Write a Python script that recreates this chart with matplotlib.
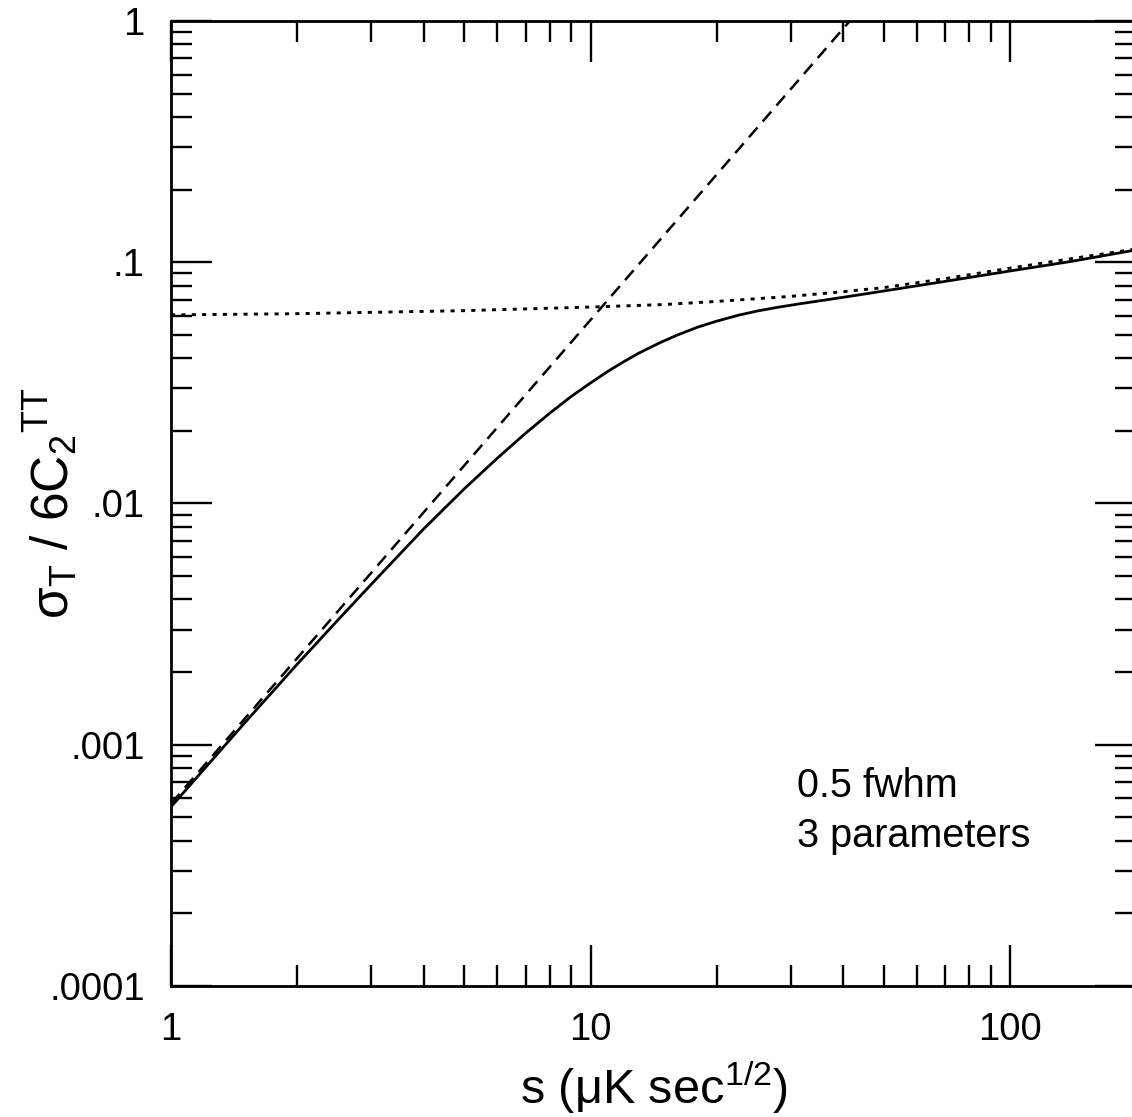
import numpy as np
import matplotlib
matplotlib.use('Agg')
import matplotlib.pyplot as plt
from matplotlib.ticker import FixedLocator, FixedFormatter, LogLocator, NullFormatter

plt.rcParams['font.family'] = ['Liberation Sans', 'DejaVu Sans']
plt.rcParams['mathtext.default'] = 'regular'

# ---------------------------------------------------------------------------
# Data
# ---------------------------------------------------------------------------
# solid curve: total error
s_solid = [1, 1.5, 2, 2.5, 3, 4, 5, 6, 7, 8, 9, 10, 11, 12, 13, 14.6, 16, 18, 20,
           22.5, 25, 28, 31.6, 36, 44, 55, 70, 100, 140, 200]
sigma_solid = [5.53e-4, 1.235e-3, 2.16e-3, 3.29e-3, 4.62e-3, 7.84e-3, 0.0115,
               0.01543, 0.01955, 0.0237, 0.0278, 0.0316, 0.0353, 0.0387, 0.0419,
               0.0463, 0.0497, 0.0538, 0.0570, 0.0603, 0.0628, 0.0651, 0.0673,
               0.0696, 0.0734, 0.0780, 0.0833, 0.0920, 0.1008, 0.1125]

# dashed line: noise-only limit (straight in log-log)
s_dashed = [1, 41.5]
sigma_dashed = [5.7e-4, 1.0]

# dotted curve: cosmic-variance limit
s_dotted = [1, 2, 5, 10, 15, 20, 30, 40, 50, 70, 100, 140, 200]
sigma_dotted = [0.0605, 0.0612, 0.0630, 0.0652, 0.0668, 0.0688, 0.0722, 0.0755,
                0.0785, 0.0855, 0.0945, 0.1035, 0.1135]

x_ticks = [1, 10, 100]
x_tick_labels = ['1', '10', '100']
y_ticks = [1e-4, 1e-3, 1e-2, 1e-1, 1]
y_tick_labels = ['.0001', '.001', '.01', '.1', '1']

# ---------------------------------------------------------------------------
# Figure
# ---------------------------------------------------------------------------
fig = plt.figure(figsize=(11.32, 11.17), dpi=100)
ax = fig.add_axes([0.1511, 0.1173, 0.8527, 0.8639])

ax.plot(s_solid, sigma_solid, color='black', lw=2.0, solid_joinstyle='round')
ax.plot(s_dashed, sigma_dashed, color='black', lw=1.8, linestyle=(0, (5.2, 3.2)))
ax.plot(s_dotted, sigma_dotted, color='black', lw=2.1, linestyle=(0, (1.4, 2.15)))

ax.set_xscale('log')
ax.set_yscale('log')
ax.set_xlim(1, 200)
ax.set_ylim(1e-4, 1)

ax.xaxis.set_major_locator(FixedLocator(x_ticks))
ax.xaxis.set_major_formatter(FixedFormatter(x_tick_labels))
ax.yaxis.set_major_locator(FixedLocator(y_ticks))
ax.yaxis.set_major_formatter(FixedFormatter(y_tick_labels))
ax.xaxis.set_minor_locator(LogLocator(base=10, subs=np.arange(2, 10), numticks=20))
ax.yaxis.set_minor_locator(LogLocator(base=10, subs=np.arange(2, 10), numticks=20))
ax.xaxis.set_minor_formatter(NullFormatter())
ax.yaxis.set_minor_formatter(NullFormatter())

ax.tick_params(which='both', direction='in', top=True, right=True, width=1.7,
               colors='black')
ax.tick_params(which='major', length=29.5, labelsize=27.5, pad=19)
ax.tick_params(which='minor', length=15)
for sp in ax.spines.values():
    sp.set_linewidth(2.0)

ax.set_xlabel('s (μK sec$^{1/2}$)', fontsize=35)
ax.xaxis.set_label_coords(0.5, -0.0756)
ax.set_ylabel('σ$_T$ / 6C$_2$$^{TT}$', fontsize=37)
ax.yaxis.set_label_coords(-0.094, 0.5)

ax.text(0.6487, 0.1959, '0.5 fwhm', transform=ax.transAxes, fontsize=28.5,
        ha='left', va='baseline')
ax.text(0.6487, 0.144, '3 parameters', transform=ax.transAxes, fontsize=28.5,
        ha='left', va='baseline')

fig.savefig('out.png', dpi=100, facecolor='white')
